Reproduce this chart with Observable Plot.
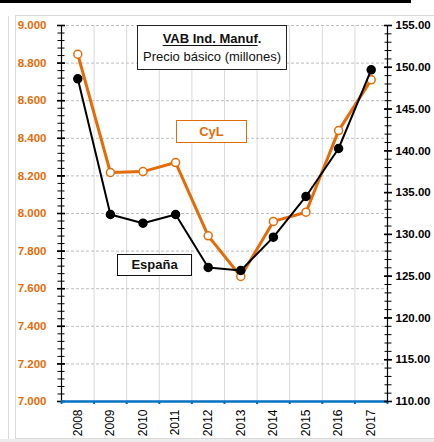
<!DOCTYPE html>
<html>
<head>
<meta charset="utf-8">
<script src="https://cdn.jsdelivr.net/npm/d3@7"></script>
<script src="https://cdn.jsdelivr.net/npm/@observablehq/plot@0.6"></script>
<style>
  html, body { margin: 0; padding: 0; background: #fff; }
  body { width: 434px; height: 442px; position: relative; overflow: hidden; font-family: "Liberation Sans", Arial, sans-serif; }
  .abs { position: absolute; box-sizing: border-box; }
  #topbar { left: 0; top: 0; width: 411px; height: 3px; background: #000; }
  #leftline { left: 8px; top: 16px; width: 1px; height: 430px; background: #d9d9d9; }
  #frame { left: 15px; top: 15px; width: 440px; height: 424px; border: 1px solid #d9d9d9; }
  #bottomband { left: 0; top: 439px; width: 434px; height: 3px; background: #ececec; }
  #chart1, #chart2 { position: absolute; left: 0; top: 0; }
  #title { left: 137px; top: 25px; width: 150px; height: 45px; border: 1px solid #222; background: #fff;
           text-align: center; font-size: 13px; line-height: 18px; padding-top: 4px; color: #111; }
  #title b u { text-decoration-thickness: 1px; text-underline-offset: 2px; }
  .legend { font-weight: bold; font-size: 13px; text-align: center; background: #fff; }
  #lgCyl { left: 176px; top: 120px; width: 71px; height: 23px; border: 1px solid #E36C09; color: #E36C09; line-height: 21px; }
  #lgEsp { left: 117px; top: 254px; width: 75px; height: 22px; border: 1px solid #111; color: #111; line-height: 20px; }
</style>
</head>
<body>
<div class="abs" id="topbar"></div>
<div class="abs" id="leftline"></div>
<div class="abs" id="frame"></div>
<div class="abs" id="bottomband"></div>
<div id="chart1"></div>
<div id="chart2"></div>
<div class="abs" id="title"><b><u>VAB Ind. Manuf</u>.</b><br>Precio básico (millones)</div>
<div class="abs legend" id="lgCyl">CyL</div>
<div class="abs legend" id="lgEsp">España</div>
<script>
// ---- data ----
const years = [2008, 2009, 2010, 2011, 2012, 2013, 2014, 2015, 2016, 2017];
const cyl = [8.847, 8.218, 8.223, 8.271, 7.881, 7.665, 7.958, 8.007, 8.441, 8.711];
const espana = [148.62, 132.38, 131.34, 132.38, 126.04, 125.68, 129.67, 134.54, 140.28, 149.70];
const leftTicks = [7.0, 7.2, 7.4, 7.6, 7.8, 8.0, 8.2, 8.4, 8.6, 8.8, 9.0];
const rightTicks = [110, 115, 120, 125, 130, 135, 140, 145, 150, 155];
const leftDomain = [7, 9];
const rightDomain = [110, 155];

const ORANGE = "#E36C09";
const BLUE = "#0070C0";
const W = 434, H = 442;
const margins = {marginLeft: 61, marginRight: 47, marginTop: 25, marginBottom: 41};
const xDomain = [years[0] - 0.5, years[years.length - 1] + 0.5];
const bounds = [years[0] - 0.5, ...years.map(y => y + 0.5)];
const innerBounds = bounds.slice(1, -1);
const leftMinor = d3.range(0, 51).map(i => leftDomain[0] + i * 0.04);
const rightMinor = d3.range(rightDomain[0], rightDomain[1] + 1, 1);
const font = "'Liberation Sans', Arial, sans-serif";

const cylData = years.map((y, i) => ({year: y, value: cyl[i]}));
const espData = years.map((y, i) => ({year: y, value: espana[i]}));

const plot1 = Plot.plot({
  width: W, height: H, ...margins,
  style: {background: "transparent", fontFamily: font, fontSize: "11.5px", overflow: "visible"},
  x: {type: "linear", domain: xDomain, axis: null},
  y: {domain: leftDomain, axis: null},
  marks: [
    Plot.ruleX(innerBounds, {stroke: "#d9d9d9", strokeWidth: 1}),
    Plot.ruleY(leftTicks.slice(1), {stroke: "#bdbdbd", strokeWidth: 1, strokeDasharray: "3,2"}),
    Plot.ruleX([xDomain[0]], {stroke: "#000", strokeWidth: 1.2}),
    Plot.axisY({anchor: "left", ticks: leftMinor, tickSize: 7, dx: 3.5, tickFormat: () => "", stroke: "#000", strokeWidth: 1, label: null}),
    Plot.axisY({anchor: "left", ticks: leftTicks, tickSize: 8, dx: 4, tickFormat: () => "", stroke: "#000", strokeWidth: 1.6, label: null}),
    Plot.axisY({anchor: "left", ticks: leftTicks, tickSize: 0, tickPadding: 15, tickFormat: d3.format(".3f"),
                fill: ORANGE, fontWeight: "bold", fontSize: 11.5, label: null}),
    Plot.line(cylData, {x: "year", y: "value", stroke: ORANGE, strokeWidth: 3}),
    Plot.dot(cylData, {x: "year", y: "value", r: 4, fill: "#fff", stroke: ORANGE, strokeWidth: 1.5}),
    Plot.axisX({anchor: "bottom", ticks: bounds, tickSize: 3, tickFormat: () => "", stroke: BLUE, strokeWidth: 2, label: null}),
    Plot.ruleY([leftDomain[0]], {stroke: BLUE, strokeWidth: 2.5}),
    Plot.axisX({anchor: "bottom", ticks: years, tickSize: 0, tickPadding: 8, tickRotate: -90, tickFormat: d => String(d),
                fill: "#000", fontSize: 12, label: null})
  ]
});
document.getElementById("chart1").appendChild(plot1);

const plot2 = Plot.plot({
  width: W, height: H, ...margins,
  style: {background: "transparent", fontFamily: font, fontSize: "11.5px", overflow: "visible"},
  x: {type: "linear", domain: xDomain, axis: null},
  y: {domain: rightDomain, axis: null},
  marks: [
    Plot.ruleX([xDomain[1]], {stroke: "#000", strokeWidth: 1.2}),
    Plot.axisY({anchor: "right", ticks: rightMinor, tickSize: 7, dx: -3.5, tickFormat: () => "", stroke: "#000", strokeWidth: 1, label: null}),
    Plot.axisY({anchor: "right", ticks: rightTicks, tickSize: 8, dx: -4, tickFormat: () => "", stroke: "#000", strokeWidth: 1.6, label: null}),
    Plot.axisY({anchor: "right", ticks: rightTicks, tickSize: 0, tickPadding: 8, tickFormat: d3.format(".2f"),
                fill: "#000", fontWeight: "bold", fontSize: 11.5, label: null}),
    Plot.line(espData, {x: "year", y: "value", stroke: "#000", strokeWidth: 2}),
    Plot.dot(espData, {x: "year", y: "value", r: 4, fill: "#000", stroke: "#000"})
  ]
});
document.getElementById("chart2").appendChild(plot2);
</script>
</body>
</html>
